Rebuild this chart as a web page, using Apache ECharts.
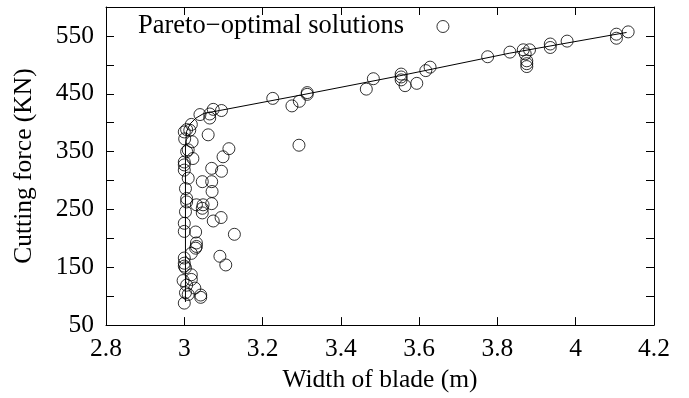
<!DOCTYPE html>
<html>
<head>
<meta charset="utf-8">
<script src="https://cdn.jsdelivr.net/npm/echarts@6/dist/echarts.min.js"></script>
<style>html,body{margin:0;padding:0;background:#fff}#c{width:689px;height:398px}</style>
</head>
<body>
<div id="c"></div>
<script>
// Pareto-optimal solutions: width of blade (m) and cutting force (KN)
const widthX = [4.134,4.104,4.104,3.978,3.935,3.935,3.882,3.866,3.871,3.875,3.875,3.875,3.832,3.775,
  3.628,3.617,3.594,3.564,3.554,3.554,3.554,3.483,3.465,3.314,3.314,3.294,3.275,3.226,3.293,
  3.095,3.074,3.065,3.065,3.040,3.061,3.018,3.006,3.000,3.001,3.014,3.020,3.006,3.010,3.000,3.000,3.000,3.022,3.010,3.003,3.006,3.114,3.099,3.070,3.095,3.046,3.070,3.071,3.031,3.048,3.070,
  3.006,3.046,3.046,3.074,3.094,3.003,3.000,3.000,3.029,3.031,3.031,3.029,3.128,3.091,3.106,3.018,3.000,3.000,3.000,3.003,3.018,3.018,2.997,3.006,3.027,3.003,3.010,3.042,3.042,3.000];
const forceY = [557,553,546,541,536,530,526,526,519,507,502,497,522,514,
  496,490,468,464,484,479,474,476,458,452,449,437,429,442,361,
  421,423,415,408,414,379,397,388,384,372,387,367,350,353,332,327,318,338,304,286,269,355,341,321,316,298,298,281,258,258,260,
  263,252,244,230,236,246,226,212,211,192,186,183,207,169,154,174,166,157,152,149,137,129,127,119,114,106,103,102,98,88];
// Front line through the solutions
const frontX = [3.003,3.003,3.006,3.015,3.030,3.050,3.090,3.300,3.550,3.830,4.130];
const frontY = [90,360,385,398,408,416,421,448,481,520,556];
const xTicks = {min: 2.8, max: 4.2, step: 0.2};
const yTicks = {min: 50, max: 600, step: 50};

const FONT = 'Liberation Serif';
const chart = echarts.init(document.getElementById('c'), null, {renderer: 'canvas'});
const axLine = {show: true, lineStyle: {color: '#000', width: 1}};
const tick = {show: true, inside: true, length: 8, lineStyle: {color: '#000', width: 1}};
const fmtX = v => String(Math.round(v * 10) / 10);
const fmtY = v => ((Math.round(v) - 50) % 100 === 0 ? String(Math.round(v)) : '');

chart.setOption({
  animation: false,
  backgroundColor: '#fff',
  grid: {left: 106, right: 35, top: 7, bottom: 71},
  legend: {
    data: ['Pareto\u2212optimal solutions'],
    left: 138, top: 13, align: 'right', padding: 0,
    itemWidth: 12, itemHeight: 12,
    itemStyle: {color: 'rgba(0,0,0,0)', borderColor: '#000', borderWidth: 1},
    textStyle: {fontFamily: FONT, fontSize: 26.5, color: '#000', padding: [0, 28, 0, 0]}
  },
  xAxis: [{
    type: 'value', min: xTicks.min, max: xTicks.max, interval: xTicks.step,
    name: 'Width of blade (m)', nameLocation: 'middle', nameGap: 37,
    nameTextStyle: {fontFamily: FONT, fontSize: 25.5, color: '#000'},
    axisLine: axLine, axisTick: tick, splitLine: {show: false},
    axisLabel: {fontFamily: FONT, fontSize: 25.5, color: '#000', margin: 11, formatter: fmtX}
  }, {
    type: 'value', position: 'top', min: xTicks.min, max: xTicks.max, interval: xTicks.step,
    axisLine: axLine, axisTick: tick, splitLine: {show: false}, axisLabel: {show: false}
  }],
  yAxis: [{
    type: 'value', min: yTicks.min, max: yTicks.max, interval: yTicks.step,
    name: 'Cutting force (KN)', nameLocation: 'middle', nameGap: 69,
    nameTextStyle: {fontFamily: FONT, fontSize: 25.5, color: '#000'},
    axisLine: axLine, axisTick: tick, splitLine: {show: false},
    axisLabel: {fontFamily: FONT, fontSize: 25.5, color: '#000', margin: 12, formatter: fmtY}
  }, {
    type: 'value', position: 'right', min: yTicks.min, max: yTicks.max, interval: yTicks.step,
    axisLine: axLine, axisTick: tick, splitLine: {show: false}, axisLabel: {show: false}
  }],
  series: [{
    name: 'front', type: 'line', xAxisIndex: 0, yAxisIndex: 0,
    data: frontX.map((x, i) => [x, frontY[i]]),
    showSymbol: false, symbol: 'none', lineStyle: {color: '#000', width: 1}, z: 1
  }, {
    name: 'Pareto\u2212optimal solutions', type: 'scatter', xAxisIndex: 0, yAxisIndex: 0,
    data: widthX.map((x, i) => [x, forceY[i]]),
    symbol: 'circle', symbolSize: 12,
    itemStyle: {color: 'rgba(0,0,0,0)', borderColor: '#000', borderWidth: 1}, z: 2
  }]
});
</script>
</body>
</html>
